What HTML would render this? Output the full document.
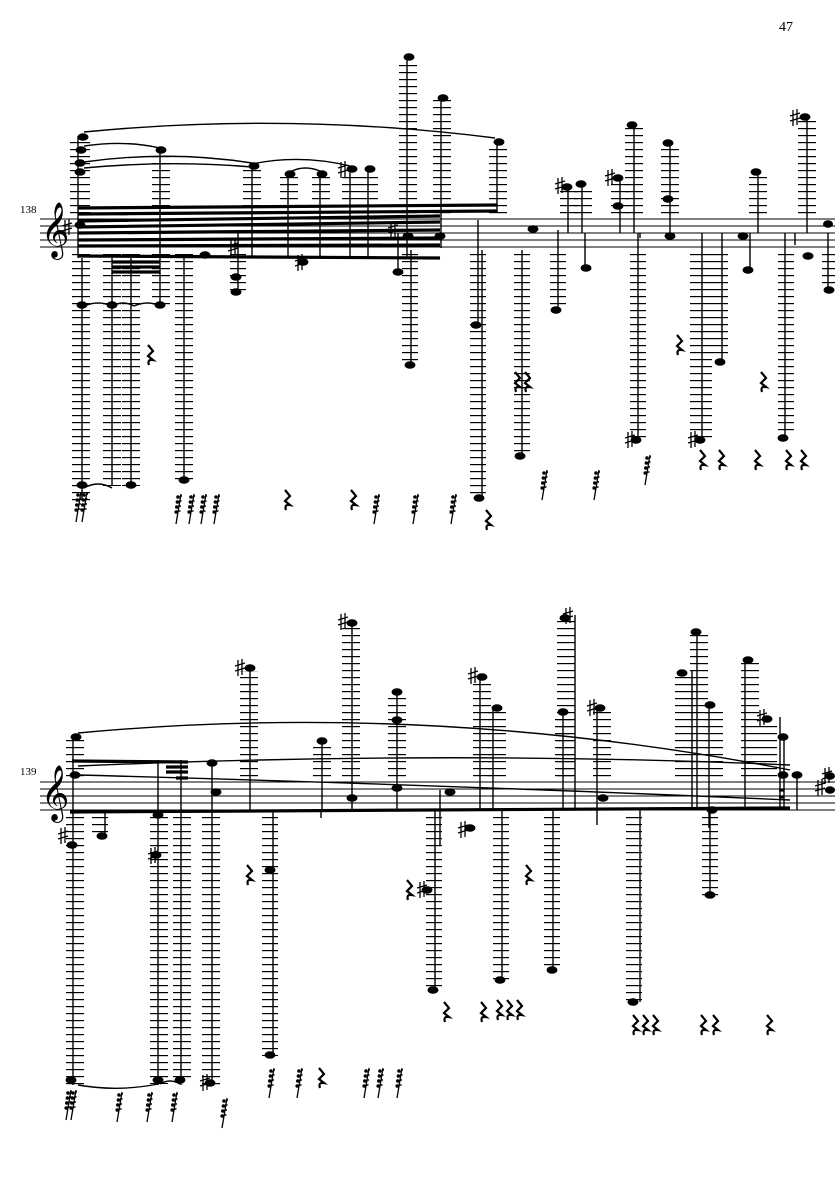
<!DOCTYPE html>
<html><head><meta charset="utf-8"><style>
html,body{margin:0;padding:0;background:#fff;}
svg{display:block;}
text{font-family:"Liberation Serif",serif;}
</style></head><body>
<svg width="835" height="1181" viewBox="0 0 835 1181" xmlns="http://www.w3.org/2000/svg">
<defs>
<pattern id="l1" patternUnits="userSpaceOnUse" x="0" y="2" width="100" height="7"><rect x="0" y="0" width="100" height="1.2" fill="#000"/></pattern>
<pattern id="l2" patternUnits="userSpaceOnUse" x="0" y="5" width="100" height="7"><rect x="0" y="0" width="100" height="1.2" fill="#000"/></pattern>
<symbol id="r" viewBox="0 0 10 20" overflow="visible"><path d="M3 0 L8 6 L3 11 L8 15 Q2 14 4 20" fill="none" stroke="#000" stroke-width="2.2"/></symbol>
<symbol id="t" viewBox="0 0 10 30" overflow="visible"><path d="M7 0 L2 30" stroke="#000" stroke-width="1.3"/><g fill="#000"><circle cx="4" cy="3" r="1.8"/><circle cx="3.4" cy="8" r="1.8"/><circle cx="2.8" cy="13" r="1.8"/><circle cx="2.2" cy="18" r="1.8"/></g><path d="M6 2 L8 2 M5 7 L7.5 7 M4.5 12 L7 12 M4 17 L6.5 17" stroke="#000" stroke-width="1.5"/></symbol>
<symbol id="sh" viewBox="0 0 10 16" overflow="visible"><path d="M3 0 V16 M7 -1 V15 M0 6 L10 3 M0 11 L10 8" stroke="#000" stroke-width="1.3" fill="none"/></symbol>
</defs>
<text x="779" y="31" font-size="14">47</text>
<text x="20" y="213" font-size="11">138</text>
<text x="20" y="775" font-size="11">139</text>

<g stroke="#000" stroke-width="1">
<path d="M40 219H835M40 226H835M40 233H835M40 240H835M40 247H835"/>
<path d="M40 782H835M40 789H835M40 796H835M40 803H835M40 810H835"/>
</g>
<g font-family="DejaVu Sans" font-size="48"><text x="41" y="246">𝄞</text><text x="41" y="809">𝄞</text></g>

<g fill="url(#l1)">
<rect x="70" y="140" width="20" height="79"/>
<rect x="152" y="155" width="18" height="64"/>
<rect x="243" y="170" width="18" height="49"/>
<rect x="280" y="177" width="18" height="42"/>
<rect x="312" y="177" width="18" height="42"/>
<rect x="342" y="172" width="18" height="47"/>
<rect x="360" y="172" width="18" height="47"/>
<rect x="399" y="60" width="18" height="159"/>
<rect x="433" y="100" width="18" height="119"/>
<rect x="489" y="144" width="18" height="75"/>
<rect x="560" y="190" width="18" height="29"/>
<rect x="574" y="187" width="18" height="32"/>
<rect x="611" y="181" width="18" height="38"/>
<rect x="625" y="128" width="18" height="91"/>
<rect x="661" y="146" width="18" height="73"/>
<rect x="749" y="175" width="18" height="44"/>
<rect x="798" y="120" width="18" height="99"/>
</g>
<g fill="url(#l1)">
<rect x="72" y="254" width="18" height="250"/>
<rect x="103" y="254" width="18" height="232"/>
<rect x="122" y="254" width="18" height="232"/>
<rect x="152" y="254" width="18" height="52"/>
<rect x="175" y="254" width="18" height="226"/>
<rect x="230" y="254" width="16" height="40"/>
<rect x="402" y="254" width="16" height="110"/>
<rect x="470" y="254" width="16" height="245"/>
<rect x="514" y="254" width="16" height="200"/>
<rect x="550" y="254" width="16" height="56"/>
<rect x="630" y="254" width="16" height="185"/>
<rect x="690" y="254" width="22" height="185"/>
<rect x="712" y="254" width="16" height="105"/>
<rect x="778" y="254" width="16" height="182"/>
<rect x="822" y="254" width="13" height="35"/>
</g>

<g stroke="#000" stroke-width="1.4">
<path d="M78 136V258M160 150V258M252 165V258M288 173V258M320 173V258M350 168V258M368 168V258M407 55V258M441 96V248M497 140V212"/>
<path d="M568 186V233M582 183V233M620 178V233M634 124V233M670 142V233M758 170V233M807 115V233"/>
<path d="M82 258V500M112 258V485M131 258V485M160 258V305M184 258V480M238 230V292M411 250V365M478 220V325M482 250V498M522 250V455M558 230V310M638 233V440M702 233V440M722 233V360M785 233V438M828 233V290"/>
<path d="M585 233V268M750 233V270M795 233V245M640 233V238M398 233V272"/>
</g>
<g fill="#000">
<ellipse cx="83" cy="137" rx="5.5" ry="3.8"/><ellipse cx="81" cy="150" rx="5.5" ry="3.8"/><ellipse cx="80" cy="163" rx="5.5" ry="3.8"/><ellipse cx="80" cy="172" rx="5.5" ry="3.8"/><ellipse cx="80" cy="225" rx="5.5" ry="3.8"/>
<ellipse cx="161" cy="150" rx="5.5" ry="3.8"/><ellipse cx="254" cy="166" rx="5.5" ry="3.8"/><ellipse cx="290" cy="174" rx="5.5" ry="3.8"/><ellipse cx="322" cy="174" rx="5.5" ry="3.8"/>
<ellipse cx="352" cy="169" rx="5.5" ry="3.8"/><ellipse cx="370" cy="169" rx="5.5" ry="3.8"/><ellipse cx="409" cy="57" rx="5.5" ry="3.8"/><ellipse cx="443" cy="98" rx="5.5" ry="3.8"/><ellipse cx="499" cy="142" rx="5.5" ry="3.8"/>
<ellipse cx="567" cy="187" rx="5.5" ry="3.8"/><ellipse cx="581" cy="184" rx="5.5" ry="3.8"/><ellipse cx="618" cy="178" rx="5.5" ry="3.8"/><ellipse cx="618" cy="206" rx="5.5" ry="3.8"/><ellipse cx="632" cy="125" rx="5.5" ry="3.8"/><ellipse cx="668" cy="143" rx="5.5" ry="3.8"/><ellipse cx="668" cy="199" rx="5.5" ry="3.8"/><ellipse cx="756" cy="172" rx="5.5" ry="3.8"/><ellipse cx="805" cy="117" rx="5.5" ry="3.8"/>
<ellipse cx="82" cy="305" rx="5.5" ry="3.8"/><ellipse cx="82" cy="485" rx="5.5" ry="3.8"/><ellipse cx="112" cy="305" rx="5.5" ry="3.8"/><ellipse cx="131" cy="485" rx="5.5" ry="3.8"/><ellipse cx="160" cy="305" rx="5.5" ry="3.8"/><ellipse cx="184" cy="480" rx="5.5" ry="3.8"/>
<ellipse cx="236" cy="277" rx="5.5" ry="3.8"/><ellipse cx="236" cy="292" rx="5.5" ry="3.8"/><ellipse cx="205" cy="255" rx="5.5" ry="3.8"/><ellipse cx="303" cy="262" rx="5.5" ry="3.8"/>
<ellipse cx="410" cy="365" rx="5.5" ry="3.8"/><ellipse cx="476" cy="325" rx="5.5" ry="3.8"/><ellipse cx="479" cy="498" rx="5.5" ry="3.8"/><ellipse cx="520" cy="456" rx="5.5" ry="3.8"/><ellipse cx="556" cy="310" rx="5.5" ry="3.8"/><ellipse cx="586" cy="268" rx="5.5" ry="3.8"/><ellipse cx="636" cy="440" rx="5.5" ry="3.8"/><ellipse cx="700" cy="440" rx="5.5" ry="3.8"/><ellipse cx="720" cy="362" rx="5.5" ry="3.8"/><ellipse cx="748" cy="270" rx="5.5" ry="3.8"/><ellipse cx="783" cy="438" rx="5.5" ry="3.8"/><ellipse cx="829" cy="290" rx="5.5" ry="3.8"/>
<ellipse cx="398" cy="272" rx="5.5" ry="3.8"/><ellipse cx="408" cy="236" rx="5.5" ry="3.8"/><ellipse cx="440" cy="236" rx="5.5" ry="3.8"/><ellipse cx="533" cy="229" rx="5.5" ry="3.8"/><ellipse cx="670" cy="236" rx="5.5" ry="3.8"/><ellipse cx="743" cy="236" rx="5.5" ry="3.8"/><ellipse cx="808" cy="256" rx="5.5" ry="3.8"/><ellipse cx="828" cy="224" rx="5" ry="3.8"/>
</g>
<g stroke="#000" stroke-width="3.2">
<path d="M78 208L497 205M78 214L497 211M78 221L440 216M78 227L440 222M78 233L440 230M78 240L440 238M78 246L440 245M78 256L440 258"/>
<path d="M112 262H160M112 267H160M112 272H160"/>
</g>
<use href="#sh" x="62" y="220" width="10" height="16"/>
<use href="#sh" x="228" y="240" width="10" height="16"/>
<use href="#sh" x="295" y="255" width="10" height="16"/>
<use href="#sh" x="388" y="222" width="10" height="16"/>
<use href="#sh" x="555" y="178" width="10" height="16"/>
<use href="#sh" x="605" y="170" width="10" height="16"/>
<use href="#sh" x="790" y="110" width="10" height="16"/>
<use href="#sh" x="338" y="162" width="10" height="16"/>
<use href="#sh" x="625" y="432" width="10" height="16"/>
<use href="#sh" x="688" y="432" width="10" height="16"/>
<g fill="none" stroke="#000" stroke-width="1.4">
<path d="M84 132Q290 112 495 138"/>
<path d="M84 146Q125 140 160 148"/>
<path d="M84 162Q170 150 252 163"/>
<path d="M84 168Q170 160 252 167"/>
<path d="M292 171Q305 165 320 171"/>
<path d="M252 164Q300 154 350 166"/>
<path d="M84 488Q98 480 112 488"/>
<path d="M112 306Q123 300 134 306M84 306Q98 300 112 306M134 306Q148 300 160 306"/>
</g>
<g>
<use href="#r" x="145" y="345" width="10" height="20"/>
<use href="#r" x="282" y="490" width="10" height="20"/>
<use href="#r" x="348" y="490" width="10" height="20"/>
<use href="#r" x="483" y="510" width="10" height="20"/>
<use href="#r" x="512" y="372" width="10" height="20"/>
<use href="#r" x="522" y="372" width="10" height="20"/>
<use href="#r" x="674" y="335" width="10" height="20"/>
<use href="#r" x="758" y="372" width="10" height="20"/>
<use href="#r" x="697" y="450" width="10" height="20"/>
<use href="#r" x="716" y="450" width="10" height="20"/>
<use href="#r" x="752" y="450" width="10" height="20"/>
<use href="#r" x="783" y="450" width="10" height="20"/>
<use href="#r" x="798" y="450" width="10" height="20"/>
</g>
<g>
<use href="#t" x="74" y="492" width="10" height="30"/>
<use href="#t" x="80" y="492" width="10" height="30"/>
<use href="#t" x="174" y="494" width="10" height="30"/>
<use href="#t" x="187" y="494" width="10" height="30"/>
<use href="#t" x="199" y="494" width="10" height="30"/>
<use href="#t" x="212" y="494" width="10" height="30"/>
<use href="#t" x="372" y="494" width="10" height="30"/>
<use href="#t" x="411" y="494" width="10" height="30"/>
<use href="#t" x="449" y="494" width="10" height="30"/>
<use href="#t" x="540" y="470" width="10" height="30"/>
<use href="#t" x="592" y="470" width="10" height="30"/>
<use href="#t" x="643" y="455" width="10" height="30"/>
</g>

<g fill="url(#l2)">
<rect x="66" y="740" width="18" height="42"/>
<rect x="240" y="671" width="18" height="111"/>
<rect x="313" y="744" width="18" height="38"/>
<rect x="342" y="626" width="18" height="156"/>
<rect x="388" y="695" width="18" height="87"/>
<rect x="473" y="680" width="18" height="102"/>
<rect x="488" y="711" width="18" height="71"/>
<rect x="557" y="621" width="18" height="161"/>
<rect x="555" y="715" width="18" height="67"/>
<rect x="593" y="711" width="18" height="71"/>
<rect x="675" y="676" width="18" height="106"/>
<rect x="690" y="635" width="18" height="147"/>
<rect x="705" y="708" width="18" height="74"/>
<rect x="741" y="663" width="18" height="119"/>
<rect x="759" y="722" width="18" height="60"/>
</g>
<g fill="url(#l2)">
<rect x="66" y="816" width="18" height="270"/>
<rect x="92" y="816" width="16" height="20"/>
<rect x="150" y="816" width="18" height="268"/>
<rect x="173" y="816" width="18" height="266"/>
<rect x="202" y="816" width="18" height="270"/>
<rect x="262" y="816" width="16" height="240"/>
<rect x="426" y="816" width="16" height="175"/>
<rect x="493" y="816" width="16" height="165"/>
<rect x="544" y="816" width="16" height="155"/>
<rect x="626" y="816" width="16" height="185"/>
<rect x="702" y="816" width="16" height="80"/>
</g>
<g stroke="#000" stroke-width="1.4">
<path d="M73 735V1085M158 760V1085M181 760V1085M212 765V1085M250 666V810M322 739V810M352 621V810M397 690V810M480 675V810M493 706V810M575 615V810M563 710V810M597 706V825M692 670V810M697 629V810M709 703V828M745 658V810M780 717V810M784 737V810M797 775V810"/>
<path d="M273 810V1055M435 810V990M440 790V845M502 810V980M553 810V970M640 810V1002M710 810V895M105 810V835M321 810V818"/>
</g>
<g fill="#000">
<ellipse cx="76" cy="737" rx="5.5" ry="3.8"/><ellipse cx="75" cy="775" rx="5.5" ry="3.8"/><ellipse cx="72" cy="845" rx="5.5" ry="3.8"/><ellipse cx="71" cy="1080" rx="5.5" ry="3.8"/>
<ellipse cx="212" cy="763" rx="5.5" ry="3.8"/><ellipse cx="250" cy="668" rx="5.5" ry="3.8"/><ellipse cx="322" cy="741" rx="5.5" ry="3.8"/><ellipse cx="352" cy="623" rx="5.5" ry="3.8"/><ellipse cx="397" cy="692" rx="5.5" ry="3.8"/><ellipse cx="397" cy="720" rx="5.5" ry="3.8"/>
<ellipse cx="482" cy="677" rx="5.5" ry="3.8"/><ellipse cx="497" cy="708" rx="5.5" ry="3.8"/><ellipse cx="565" cy="618" rx="5.5" ry="3.8"/><ellipse cx="563" cy="712" rx="5.5" ry="3.8"/><ellipse cx="600" cy="708" rx="5.5" ry="3.8"/><ellipse cx="682" cy="673" rx="5.5" ry="3.8"/><ellipse cx="696" cy="632" rx="5.5" ry="3.8"/><ellipse cx="710" cy="705" rx="5.5" ry="3.8"/><ellipse cx="748" cy="660" rx="5.5" ry="3.8"/><ellipse cx="767" cy="719" rx="5.5" ry="3.8"/><ellipse cx="783" cy="737" rx="5.5" ry="3.8"/><ellipse cx="783" cy="775" rx="5.5" ry="3.8"/><ellipse cx="797" cy="775" rx="5.5" ry="3.8"/>
<ellipse cx="352" cy="798" rx="5.5" ry="3.8"/><ellipse cx="397" cy="788" rx="5.5" ry="3.8"/><ellipse cx="450" cy="792" rx="5.5" ry="3.8"/><ellipse cx="603" cy="798" rx="5.5" ry="3.8"/><ellipse cx="712" cy="810" rx="5.5" ry="3.8"/><ellipse cx="216" cy="792" rx="5.5" ry="3.8"/><ellipse cx="830" cy="790" rx="5" ry="3.8"/><ellipse cx="830" cy="776" rx="5" ry="3.8"/>
<ellipse cx="102" cy="836" rx="5.5" ry="3.8"/><ellipse cx="158" cy="815" rx="5.5" ry="3.8"/><ellipse cx="156" cy="855" rx="5.5" ry="3.8"/><ellipse cx="158" cy="1080" rx="5.5" ry="3.8"/><ellipse cx="180" cy="1080" rx="5.5" ry="3.8"/><ellipse cx="210" cy="1083" rx="5.5" ry="3.8"/>
<ellipse cx="270" cy="1055" rx="5.5" ry="3.8"/><ellipse cx="270" cy="870" rx="5.5" ry="3.8"/><ellipse cx="433" cy="990" rx="5.5" ry="3.8"/><ellipse cx="427" cy="890" rx="5.5" ry="3.8"/><ellipse cx="470" cy="828" rx="5.5" ry="3.8"/><ellipse cx="500" cy="980" rx="5.5" ry="3.8"/><ellipse cx="552" cy="970" rx="5.5" ry="3.8"/><ellipse cx="633" cy="1002" rx="5.5" ry="3.8"/><ellipse cx="710" cy="895" rx="5.5" ry="3.8"/>
</g>
<g stroke="#000" stroke-width="3.2">
<path d="M70 812L790 808"/>
<path d="M72 761L188 762"/>
<path d="M166 767H188M166 772H188M176 778H188M779 790H784M779 797H784"/>
</g>
<use href="#sh" x="235" y="660" width="10" height="16"/>
<use href="#sh" x="338" y="614" width="10" height="16"/>
<use href="#sh" x="468" y="668" width="10" height="16"/>
<use href="#sh" x="563" y="608" width="10" height="16"/>
<use href="#sh" x="587" y="700" width="10" height="16"/>
<use href="#sh" x="757" y="710" width="10" height="16"/>
<use href="#sh" x="58" y="828" width="10" height="16"/>
<use href="#sh" x="148" y="848" width="10" height="16"/>
<use href="#sh" x="200" y="1075" width="10" height="16"/>
<use href="#sh" x="458" y="822" width="10" height="16"/>
<use href="#sh" x="417" y="882" width="10" height="16"/>
<use href="#sh" x="815" y="780" width="10" height="16"/>
<use href="#sh" x="822" y="768" width="10" height="16"/>
<g fill="none" stroke="#000" stroke-width="1.4">
<path d="M78 733Q430 700 790 770"/>
<path d="M78 766Q450 750 790 765"/>
<path d="M78 775Q450 785 790 800"/>
<path d="M78 1085Q118 1092 158 1084M160 1084Q170 1078 180 1084"/>
</g>
<g>
<use href="#r" x="244" y="865" width="10" height="20"/>
<use href="#r" x="404" y="880" width="10" height="20"/>
<use href="#r" x="523" y="865" width="10" height="20"/>
<use href="#r" x="441" y="1002" width="10" height="20"/>
<use href="#r" x="478" y="1002" width="10" height="20"/>
<use href="#r" x="494" y="1000" width="10" height="20"/>
<use href="#r" x="504" y="1000" width="10" height="20"/>
<use href="#r" x="514" y="1000" width="10" height="20"/>
<use href="#r" x="630" y="1015" width="10" height="20"/>
<use href="#r" x="640" y="1015" width="10" height="20"/>
<use href="#r" x="650" y="1015" width="10" height="20"/>
<use href="#r" x="698" y="1015" width="10" height="20"/>
<use href="#r" x="710" y="1015" width="10" height="20"/>
<use href="#r" x="764" y="1015" width="10" height="20"/>
<use href="#r" x="316" y="1068" width="10" height="20"/>
</g>
<g>
<use href="#t" x="64" y="1090" width="10" height="30"/>
<use href="#t" x="69" y="1090" width="10" height="30"/>
<use href="#t" x="115" y="1092" width="10" height="30"/>
<use href="#t" x="145" y="1092" width="10" height="30"/>
<use href="#t" x="170" y="1092" width="10" height="30"/>
<use href="#t" x="220" y="1098" width="10" height="30"/>
<use href="#t" x="267" y="1068" width="10" height="30"/>
<use href="#t" x="295" y="1068" width="10" height="30"/>
<use href="#t" x="362" y="1068" width="10" height="30"/>
<use href="#t" x="376" y="1068" width="10" height="30"/>
<use href="#t" x="395" y="1068" width="10" height="30"/>
</g>
</svg>
</body></html>
